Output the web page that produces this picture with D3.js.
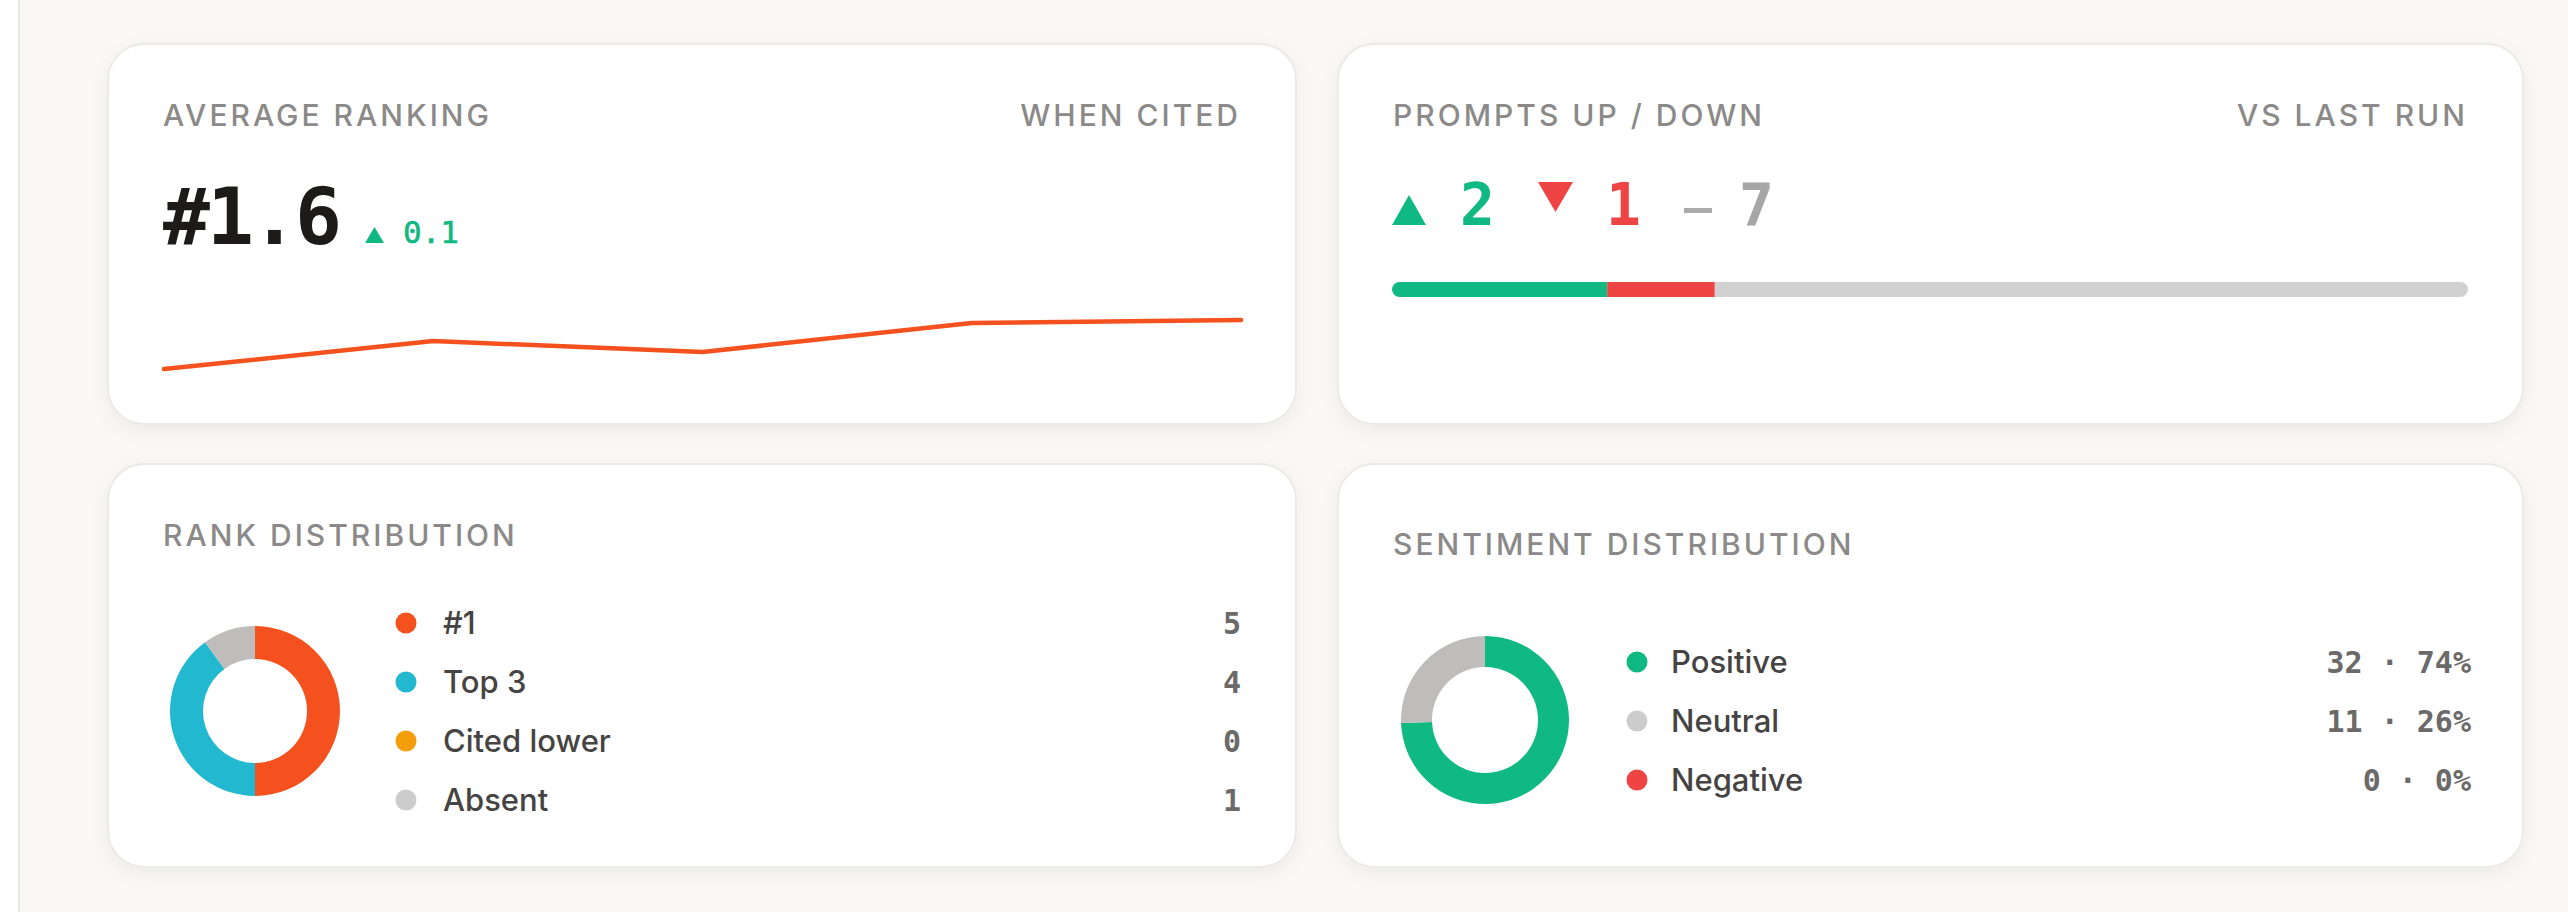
<!DOCTYPE html>
<html>
<head>
<meta charset="utf-8">
<script src="https://cdn.jsdelivr.net/npm/d3@7"></script>
<style>
  html, body { margin: 0; padding: 0; background: #f9f8f6; }
  svg { display: block; }
  .title { font-family: Inter, "Noto Sans", sans-serif; font-size: 30px; font-weight: 500; fill: #8b8a88; letter-spacing: 3px; }
  .mono { font-family: "DejaVu Sans Mono", "Liberation Mono", monospace; }
  .label { font-family: Inter, "Noto Sans", sans-serif; font-size: 31px; font-weight: 500; fill: #454442; }
</style>
</head>
<body>
<svg id="board" width="2568" height="912"></svg>
<script>
// average ranking per run (lower is better)
const runs = ["Run 1", "Run 2", "Run 3", "Run 4", "Run 5"];
const avgRank = [2.58, 2.02, 2.24, 1.66, 1.6];
const avgNow = "#1.6";
const avgDelta = "0.1";

// prompts up / down vs last run
const moveKeys = ["Up", "Down", "Same"];
const moveCounts = [2, 1, 7];
const moveColors = ["#10b981", "#ef4444", "#d1d1d1"];

// rank distribution
const rankCats = ["#1", "Top 3", "Cited lower", "Absent"];
const rankCounts = [5, 4, 0, 1];
const rankColors = ["#f4511e", "#22b8cf", "#f59e0b", "#bfbdbb"];
const rankDots = ["#f4511e", "#22b8cf", "#f59e0b", "#cccccc"];

// sentiment distribution
const sentCats = ["Positive", "Neutral", "Negative"];
const sentCounts = [32, 11, 0];
const sentPct = ["74%", "26%", "0%"];
const sentColors = ["#10b981", "#bfbdbb", "#ef4444"];
const sentDots = ["#10b981", "#cccccc", "#ef4444"];

let svg = d3.select("#board");

// shadow filter for the cards
let defs = svg.append("defs");
let f = defs.append("filter").attr("id", "shadow")
  .attr("x", "-5%").attr("y", "-10%").attr("width", "110%").attr("height", "125%");
f.append("feDropShadow").attr("dx", 0).attr("dy", 6).attr("stdDeviation", 8)
  .attr("flood-color", "#000").attr("flood-opacity", 0.05);

// sidebar edge
svg.append("rect").attr("x", 0).attr("y", 0).attr("width", 18).attr("height", 912).attr("fill", "#ffffff");
svg.append("rect").attr("x", 18).attr("y", 0).attr("width", 2).attr("height", 912).attr("fill", "#ebe9e6");

let cards = [
  { x: 108, y: 44, w: 1188, h: 380 },
  { x: 1338, y: 44, w: 1185, h: 380 },
  { x: 108, y: 464, w: 1188, h: 403 },
  { x: 1338, y: 464, w: 1185, h: 403 },
];
svg.selectAll(".card").data(cards).enter().append("rect")
  .attr("class", "card")
  .attr("x", d => d.x).attr("y", d => d.y)
  .attr("width", d => d.w).attr("height", d => d.h)
  .attr("rx", 36)
  .attr("fill", "#ffffff")
  .attr("stroke", "#ece9e6")
  .attr("stroke-width", 2)
  .attr("filter", "url(#shadow)");

function title(x, y, txt, anchor) {
  svg.append("text").attr("class", "title")
    .attr("x", x).attr("y", y)
    .attr("text-anchor", anchor || "start")
    .text(txt);
}

// ---- Average ranking card
title(163, 126, "AVERAGE RANKING");
title(1241, 126, "WHEN CITED", "end");

svg.append("text").attr("class", "mono")
  .attr("x", 163).attr("y", 244)
  .style("font-size", "78px").style("font-weight", 700)
  .style("letter-spacing", "-3px")
  .attr("fill", "#1c1b1a")
  .text(avgNow);

svg.append("path")
  .attr("d", "M365,243 L374.5,227 L384,243 Z")
  .attr("fill", "#10b981");
svg.append("text").attr("class", "mono")
  .attr("x", 403).attr("y", 243)
  .style("font-size", "31px")
  .attr("fill", "#10b981")
  .attr("stroke", "#10b981").attr("stroke-width", 0.6)
  .text(avgDelta);

let x = d3.scalePoint().domain(runs).range([164, 1241]);
let y = d3.scaleLinear().domain(d3.extent(avgRank)).range([320, 369]);
let line = d3.line()
  .x((d, i) => x(runs[i]))
  .y(d => y(d));
svg.append("path")
  .datum(avgRank)
  .attr("fill", "none")
  .attr("stroke", "#f4511e")
  .attr("stroke-width", 4.5)
  .attr("stroke-linecap", "round")
  .attr("stroke-linejoin", "round")
  .attr("d", line);

// ---- Prompts up / down card
title(1393, 126, "PROMPTS UP / DOWN");
title(2468, 126, "VS LAST RUN", "end");

svg.append("path").attr("d", "M1392,225 L1409,195 L1426,225 Z").attr("fill", moveColors[0]);
svg.append("text").attr("class", "mono")
  .attr("x", 1460).attr("y", 225)
  .style("font-size", "58px").style("font-weight", 700)
  .attr("fill", moveColors[0]).text(moveCounts[0]);
svg.append("path").attr("d", "M1538,182 L1573,182 L1555.5,212 Z").attr("fill", moveColors[1]);
svg.append("text").attr("class", "mono")
  .attr("x", 1606).attr("y", 225)
  .style("font-size", "58px").style("font-weight", 700)
  .attr("fill", moveColors[1]).text(moveCounts[1]);
svg.append("rect").attr("x", 1684).attr("y", 208).attr("width", 28).attr("height", 5).attr("fill", "#aaaaaa");
svg.append("text").attr("class", "mono")
  .attr("x", 1739).attr("y", 225)
  .style("font-size", "58px").style("font-weight", 700)
  .attr("fill", "#a6a6a6").text(moveCounts[2]);

let total = d3.sum(moveCounts);
let bx = d3.scaleLinear().domain([0, total]).range([1392, 2468]);
let stack = [];
let acc = 0;
moveCounts.forEach((v, i) => { stack.push({ key: moveKeys[i], x0: acc, x1: acc + v, color: moveColors[i] }); acc += v; });

defs.append("clipPath").attr("id", "barclip")
  .append("rect")
  .attr("x", bx(0)).attr("y", 282)
  .attr("width", bx(total) - bx(0)).attr("height", 15)
  .attr("rx", 7.5);
svg.append("g").attr("clip-path", "url(#barclip)")
  .selectAll("rect").data(stack).enter().append("rect")
  .attr("x", d => bx(d.x0))
  .attr("y", 282)
  .attr("width", d => bx(d.x1) - bx(d.x0))
  .attr("height", 15)
  .attr("fill", d => d.color);

// ---- Donut + legend helper
function donut(cx, cy, r0, r1, counts, colors) {
  let pie = d3.pie().sort(null).value(d => d);
  let arc = d3.arc().innerRadius(r0).outerRadius(r1);
  svg.append("g")
    .attr("transform", "translate(" + cx + "," + cy + ")")
    .selectAll("path")
    .data(pie(counts))
    .enter()
    .append("path")
    .attr("d", arc)
    .attr("fill", (d, i) => colors[i]);
}

function legend(dotX, labelX, valueX, y0, step, cats, dots, values) {
  let row = d3.scaleLinear().domain([0, 1]).range([y0, y0 + step]);
  let g = svg.append("g");
  let rows = g.selectAll(".row").data(cats).enter().append("g")
    .attr("transform", (d, i) => "translate(0," + row(i) + ")");
  rows.append("circle")
    .attr("cx", dotX).attr("cy", 0).attr("r", 10.5)
    .attr("fill", (d, i) => dots[i]);
  rows.append("text").attr("class", "label")
    .attr("x", labelX).attr("y", 11)
    .text(d => d);
  rows.append("text").attr("class", "mono")
    .attr("x", valueX).attr("y", 11)
    .attr("text-anchor", "end")
    .style("font-size", "30px")
    .style("font-weight", 700)
    .attr("fill", "#6b6a68")
    .style("white-space", "pre")
    .text((d, i) => values[i]);
}

// ---- Rank distribution card
title(163, 546, "RANK DISTRIBUTION");
donut(255, 711, 52, 85, rankCounts, rankColors);
legend(406, 443, 1241, 623, 59, rankCats, rankDots, rankCounts.map(String));

// ---- Sentiment distribution card
title(1393, 555, "SENTIMENT DISTRIBUTION");
donut(1485, 720, 53, 84, sentCounts, sentColors);
legend(1637, 1671, 2471, 662, 59, sentCats, sentDots,
  sentCounts.map((c, i) => c + " \u00b7 " + sentPct[i]));
</script>
</body>
</html>
